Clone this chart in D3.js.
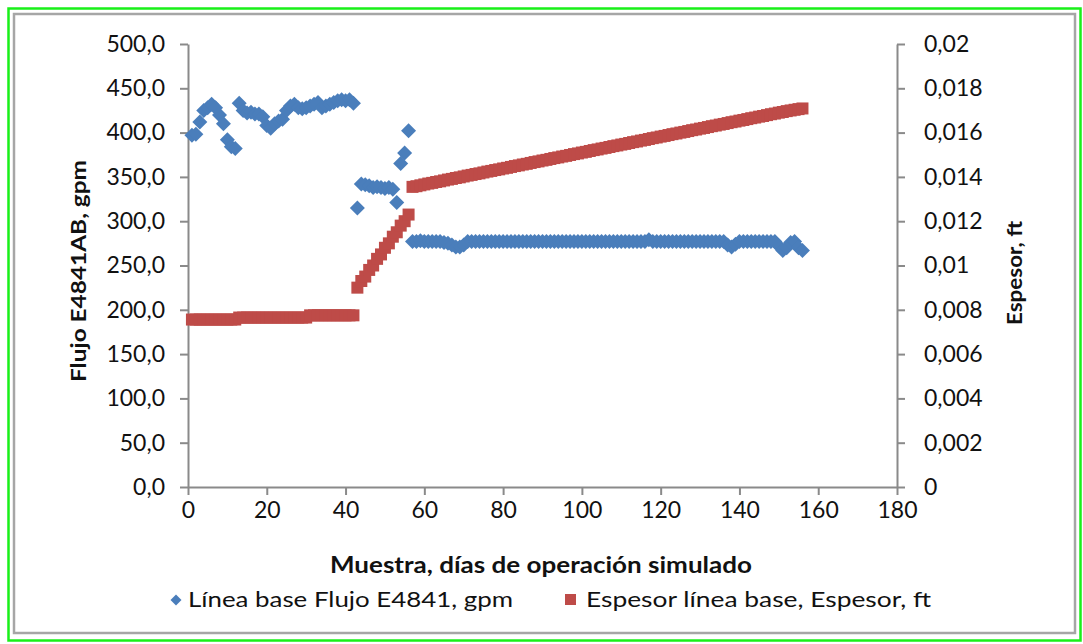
<!DOCTYPE html>
<html>
<head>
<meta charset="utf-8">
<script src="https://cdn.jsdelivr.net/npm/d3@7"></script>
<style>
  html, body { margin: 0; padding: 0; background: #fff; }
  svg { display: block; }
  text { font-family: Lato, "Liberation Sans", sans-serif; fill: #111; }
</style>
</head>
<body>
<svg id="chart" width="1083" height="644"></svg>
<script>
// Simulated operating days (sample index)
const dias = d3.range(1, 157);

// Baseline flow E4841, gpm (left axis)
const flujo = [
  397, 398, 412, 425, 428, 432, 428, 420, 410, 392,
  384, 382, 433, 425, 422, 423, 421, 421, 418, 408,
  405, 410, 413, 415, 425, 430, 432, 428, 427, 428,
  430, 432, 434, 428, 430, 432, 434, 436, 437, 436,
  437, 433, 315, 342, 341, 340, 338, 339, 338, 337,
  338, 336, 321, 365, 377, 402, 277, 277, 278, 277,
  277, 277, 277, 277, 276, 275, 273, 271, 271, 273,
  277, 277, 277, 277, 277, 277, 277, 277, 277, 277,
  277, 277, 277, 277, 277, 277, 277, 277, 277, 277,
  277, 277, 277, 277, 277, 277, 277, 277, 277, 277,
  277, 277, 277, 277, 277, 277, 277, 277, 277, 277,
  277, 277, 277, 277, 277, 277, 279, 277, 277, 277,
  277, 277, 277, 277, 277, 277, 277, 277, 277, 277,
  277, 277, 277, 277, 277, 277, 273, 271, 274, 277,
  277, 277, 277, 277, 277, 277, 277, 277, 277, 272,
  267, 270, 276, 277, 270, 267
];

// Baseline deposit thickness, ft (right axis)
const espesor = [
  0.00756, 0.00756, 0.00756, 0.00756, 0.00756, 0.00756, 0.00756, 0.00756, 0.00756, 0.00756,
  0.00756, 0.00756, 0.00765, 0.00765, 0.00765, 0.00765, 0.00765, 0.00765, 0.00765, 0.00765,
  0.00765, 0.00765, 0.00765, 0.00765, 0.00765, 0.00765, 0.00765, 0.00765, 0.00765, 0.00765,
  0.00775, 0.00775, 0.00775, 0.00775, 0.00775, 0.00775, 0.00775, 0.00775, 0.00775, 0.00775,
  0.00775, 0.00775, 0.00900, 0.00930, 0.00950, 0.00980, 0.01000, 0.01030, 0.01050, 0.01080,
  0.01100, 0.01130, 0.01150, 0.01180, 0.01200, 0.01230, 0.01355, 0.01358, 0.01362, 0.01366,
  0.01370, 0.01373, 0.01377, 0.01380, 0.01384, 0.01388, 0.01391, 0.01395, 0.01398, 0.01402,
  0.01406, 0.01409, 0.01413, 0.01416, 0.01420, 0.01424, 0.01427, 0.01431, 0.01434, 0.01438,
  0.01441, 0.01445, 0.01449, 0.01452, 0.01456, 0.01459, 0.01463, 0.01467, 0.01470, 0.01474,
  0.01477, 0.01481, 0.01485, 0.01488, 0.01492, 0.01495, 0.01499, 0.01503, 0.01506, 0.01510,
  0.01513, 0.01517, 0.01521, 0.01524, 0.01528, 0.01531, 0.01535, 0.01539, 0.01542, 0.01546,
  0.01549, 0.01553, 0.01557, 0.01560, 0.01564, 0.01567, 0.01571, 0.01575, 0.01578, 0.01582,
  0.01585, 0.01589, 0.01593, 0.01596, 0.01600, 0.01603, 0.01607, 0.01611, 0.01614, 0.01618,
  0.01621, 0.01625, 0.01629, 0.01632, 0.01636, 0.01639, 0.01643, 0.01647, 0.01650, 0.01654,
  0.01657, 0.01661, 0.01665, 0.01668, 0.01672, 0.01675, 0.01679, 0.01683, 0.01686, 0.01690,
  0.01693, 0.01697, 0.01700, 0.01703, 0.01706, 0.01709
];

// Axis ticks
const xTicks = [0, 20, 40, 60, 80, 100, 120, 140, 160, 180];
const yLeftTicks = [0, 50, 100, 150, 200, 250, 300, 350, 400, 450, 500];
const yRightTicks = [0, 0.002, 0.004, 0.006, 0.008, 0.01, 0.012, 0.014, 0.016, 0.018, 0.02];

const tituloX = "Muestra, días de operación simulado";
const tituloYIzq = "Flujo E4841AB, gpm";
const tituloYDer = "Espesor, ft";
const serieFlujo = "Línea base Flujo E4841, gpm";
const serieEspesor = "Espesor línea base, Espesor, ft";

const azul = "#4a7ebb";
const rojo = "#be4b48";
const gris = "#8a8a8a";

const es = d3.formatLocale({ decimal: ",", thousands: ".", grouping: [3], currency: ["", " €"] });
const fmtIzq = es.format(".1f");
const fmtDer = es.format(".3~f");

const svg = d3.select("#chart");

// Frames
svg.append("rect").attr("x", 8.5).attr("y", 8.5).attr("width", 1072).attr("height", 632)
  .attr("fill", "none").attr("stroke", "#19f019").attr("stroke-width", 2.5);
svg.append("rect").attr("x", 14).attr("y", 14).attr("width", 1061).attr("height", 619)
  .attr("fill", "#fff").attr("stroke", "#a6a6a6").attr("stroke-width", 2.5);

const x = d3.scaleLinear().domain([0, 180]).range([188, 897]);
const yL = d3.scaleLinear().domain([0, 500]).range([487, 44]);
const yR = d3.scaleLinear().domain([0, 0.02]).range([487, 44]);

function styleAxis(g) {
  g.selectAll("path.domain").attr("stroke", gris).attr("stroke-width", 2);
  g.selectAll(".tick line").attr("stroke", gris).attr("stroke-width", 2);
  g.selectAll(".tick text").style("font-family", "Lato, 'Liberation Sans', sans-serif")
    .style("font-size", "23px").attr("fill", "#111");
}

svg.append("g").attr("transform", "translate(0,487)")
  .call(d3.axisBottom(x).tickValues(xTicks).tickSize(8).tickPadding(7).tickSizeOuter(0).tickFormat(d3.format("d")))
  .call(styleAxis);

svg.append("g").attr("transform", "translate(188,0)")
  .call(d3.axisLeft(yL).tickValues(yLeftTicks).tickSize(8).tickPadding(15).tickSizeOuter(0).tickFormat(fmtIzq))
  .call(styleAxis);

svg.append("g").attr("transform", "translate(897,0)")
  .call(d3.axisRight(yR).tickValues(yRightTicks).tickSize(8).tickPadding(19).tickSizeOuter(0).tickFormat(fmtDer))
  .call(styleAxis);

// Series markers
const diamante = (r) => `M0,${-r}L${r},0L0,${r}L${-r},0Z`;

svg.append("g").selectAll("path").data(dias).join("path")
  .attr("d", diamante(7.5))
  .attr("transform", (d, i) => `translate(${x(d)},${yL(flujo[i])})`)
  .attr("fill", azul);

svg.append("g").selectAll("rect").data(dias).join("rect")
  .attr("x", d => x(d) - 6)
  .attr("y", (d, i) => yR(espesor[i]) - 6)
  .attr("width", 12).attr("height", 12)
  .attr("fill", rojo);

// Titles
function fitText(sel, w) { sel.attr("textLength", w).attr("lengthAdjust", "spacingAndGlyphs"); }

svg.append("text").attr("x", 541).attr("y", 573).attr("text-anchor", "middle")
  .style("font-size", "22px").style("font-weight", "bold").text(tituloX).call(fitText, 422);

svg.append("text").attr("transform", "translate(86,271) rotate(-90)").attr("text-anchor", "middle")
  .style("font-size", "21px").style("font-weight", "bold").text(tituloYIzq).call(fitText, 222);

svg.append("text").attr("transform", "translate(1022,273) rotate(-90)").attr("text-anchor", "middle")
  .style("font-size", "21px").style("font-weight", "bold").text(tituloYDer).call(fitText, 104);

// Legend
const ley = svg.append("g");
ley.append("path").attr("d", diamante(5.5)).attr("transform", "translate(176,600)").attr("fill", azul);
ley.append("text").attr("x", 188).attr("y", 607).style("font-size", "22px").text(serieFlujo).call(fitText, 325);
ley.append("rect").attr("x", 565).attr("y", 594).attr("width", 11).attr("height", 11).attr("fill", rojo);
ley.append("text").attr("x", 586).attr("y", 607).style("font-size", "22px").text(serieEspesor).call(fitText, 345);
</script>
</body>
</html>
